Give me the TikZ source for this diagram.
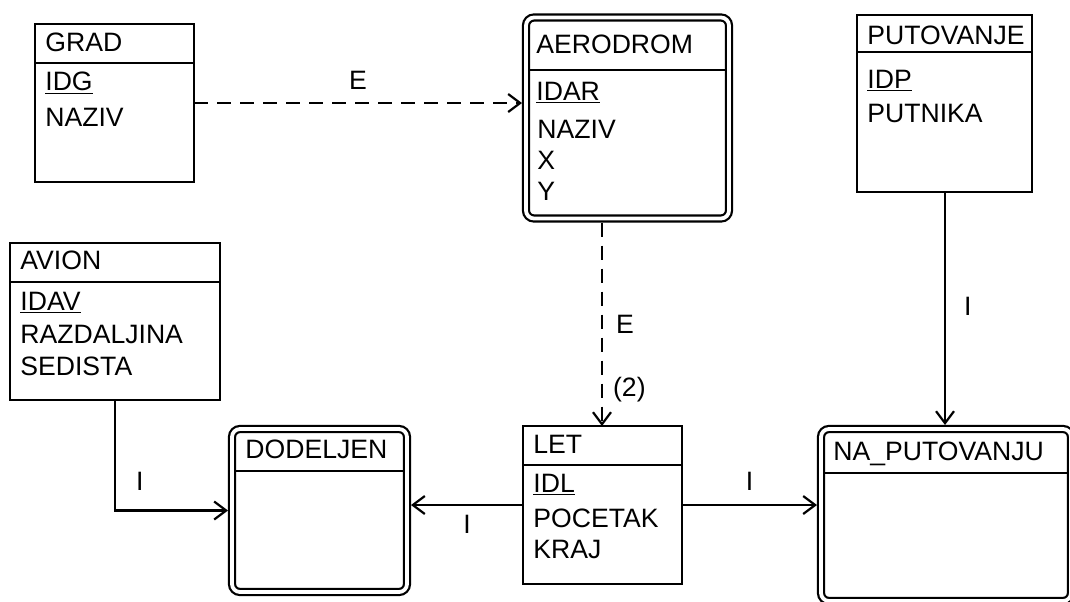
\documentclass[tikz,border=0pt]{standalone}
\usepackage{fontspec}
\setmainfont{Liberation Sans}
\usetikzlibrary{arrows.meta, positioning, fit}

\newcommand{\pk}[1]{\underline{#1}}

\begin{document}
\begin{tikzpicture}[
    x=0.5pt, y=-0.5pt,
    entity/.style={draw, line width=1.2pt, inner sep=0pt, outer sep=0pt},
    weakentity/.style={draw, line width=1.1pt, double, double distance=1.9pt,
        rounded corners=4pt, inner sep=0pt, outer sep=2pt},
    attr/.style={anchor=base west, inner sep=0pt, font=\fontsize{13.3}{15}\selectfont},
    lab/.style={inner sep=0pt, font=\fontsize{13.3}{15}\selectfont},
    hline/.style={line width=1.2pt},
    link/.style={line width=1.1pt, -{Straight Barb[length=6pt, width=9pt]}},
    idlink/.style={link, dash pattern=on 7pt off 4.5pt}
]
    \useasboundingbox (0,0) rectangle (1070,601);
    \fill[white] (0,0) rectangle (1070,601);
    \clip (0,0) rectangle (1070,601);

    % entity boxes
    \node[entity, fit={(35,24) (194,182)}]          (grad) {};
    \node[weakentity, fit={(526,17.5) (729,218.5)}] (aerodrom) {};
    \node[entity, fit={(857,15) (1032,192)}]        (putovanje) {};
    \node[entity, fit={(10,243) (220,400)}]         (avion) {};
    \node[weakentity, fit={(232,429) (407,592)}]    (dodeljen) {};
    \node[entity, fit={(523,426) (682,584)}]        (let) {};
    \node[weakentity, fit={(821,429) (1071,601)}]   (naputovanju) {};

    % header lines
    \draw[hline] (grad.west |- 0,63) -- (grad.east |- 0,63);
    \draw[hline] ([xshift=3.5pt]aerodrom.west |- 0,70) -- ([xshift=-3.5pt]aerodrom.east |- 0,70);
    \draw[hline] (putovanje.west |- 0,52) -- (putovanje.east |- 0,52);
    \draw[hline] (avion.west |- 0,282) -- (avion.east |- 0,282);
    \draw[hline] ([xshift=3.5pt]dodeljen.west |- 0,471) -- ([xshift=-3.5pt]dodeljen.east |- 0,471);
    \draw[hline] (let.west |- 0,465) -- (let.east |- 0,465);
    \draw[hline] ([xshift=3.5pt]naputovanju.west |- 0,473) -- ([xshift=-3.5pt]naputovanju.east |- 0,473);

    % titles and attributes
    \node[attr] (gradT)   at (45,51)  {GRAD};
    \node[attr] (gradA1)  at (45,90)  {\pk{IDG}};
    \node[attr] (gradA2)  at (45,126) {NAZIV};

    \node[attr] (aeroT)   at (536,53)  {AERODROM};
    \node[attr] (aeroA1)  at (536,100) {\pk{IDAR}};
    \node[attr] (aeroA2)  at (537,138) {NAZIV};
    \node[attr] (aeroA3)  at (537,169) {X};
    \node[attr] (aeroA4)  at (537,200) {Y};

    \node[attr] (putT)    at (867,44)  {PUTOVANJE};
    \node[attr] (putA1)   at (867,88)  {\pk{IDP}};
    \node[attr] (putA2)   at (867,122) {PUTNIKA};

    \node[attr] (avionT)  at (20,269) {AVION};
    \node[attr] (avionA1) at (20,310) {\pk{IDAV}};
    \node[attr] (avionA2) at (20,343) {RAZDALJINA};
    \node[attr] (avionA3) at (20,375) {SEDISTA};

    \node[attr] (dodT)    at (245,458) {DODELJEN};

    \node[attr] (letT)    at (533,453) {LET};
    \node[attr] (letA1)   at (533,492) {\pk{IDL}};
    \node[attr] (letA2)   at (533,527) {POCETAK};
    \node[attr] (letA3)   at (533,558) {KRAJ};

    \node[attr] (naT)     at (833,460) {NA\_PUTOVANJU};

    % connectors
    \draw[idlink] (grad.east) -- node[lab, above=6pt]{E} (aerodrom.west |- grad.east);
    \draw[idlink] (aerodrom.south -| 602,0) -- node[lab, right=6.5pt]{E}
        node[lab, right=5pt, pos=0.82]{(2)} (let.north -| 602,0);
    \draw[link] (putovanje.south -| 945,0) -- node[lab, right=9pt, pos=0.49]{I} (naputovanju.north -| 945,0);
    \draw[link] (avion.south -| 115,0) |- node[lab, above=9.5pt, pos=0.61]{I} (dodeljen.west);
    \draw[link] (let.west) -- node[lab, below=4.5pt]{I} (dodeljen.east |- let.west);
    \draw[link] (let.east) -- node[lab, above=6.5pt]{I} (naputovanju.west |- let.east);
\end{tikzpicture}
\end{document}
